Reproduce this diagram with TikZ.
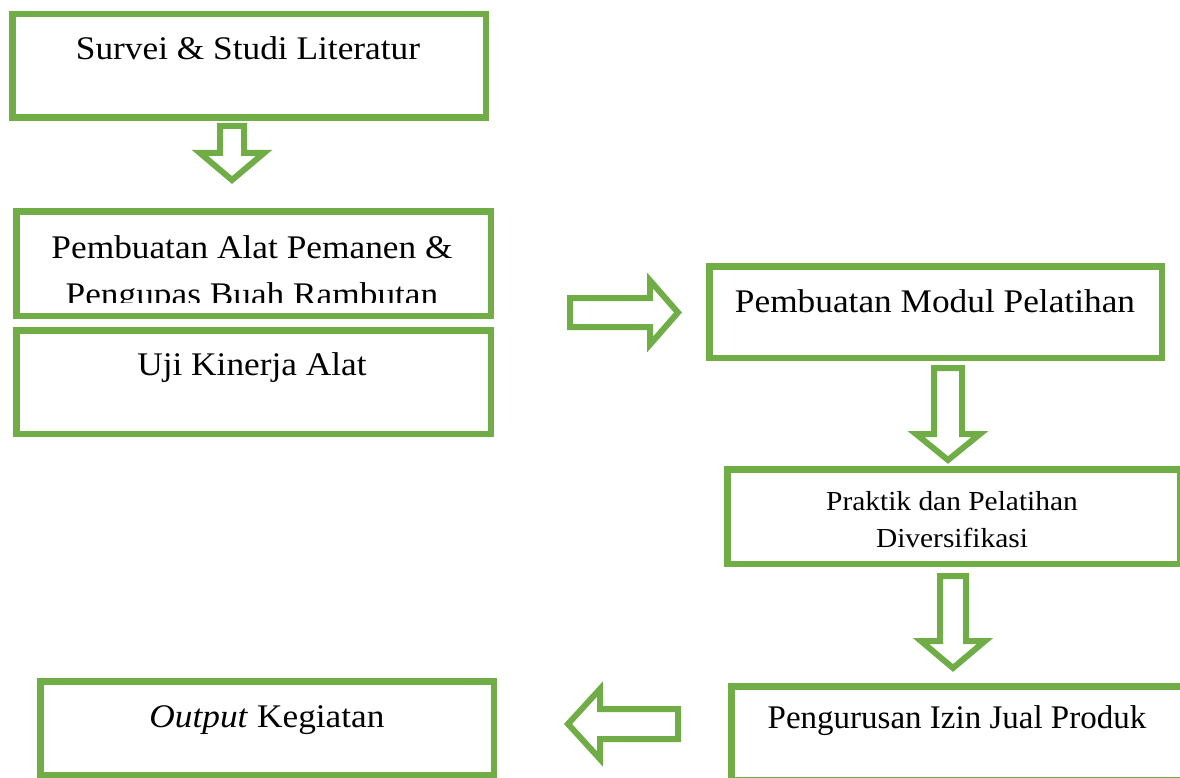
\documentclass[tikz,border=0pt]{standalone}
\usepackage{fontspec}
\setmainfont{Liberation Serif}[FakeStretch=1.07]
\newfontfamily\plainfont{Liberation Serif}
\definecolor{ogreen}{HTML}{70AD47}
\tikzset{
  box/.style={draw=ogreen, line width=6.5pt, rectangle, inner sep=0pt, fill=white},
  blockarrow/.style={draw=ogreen, line width=6pt, line join=miter, miter limit=10, fill=white},
  lbl/.style={anchor=base, inner sep=0pt, font=\fontsize{33}{38}\selectfont},
  lblplain/.style={anchor=base, inner sep=0pt, font=\plainfont\fontsize{33}{38}\selectfont},
  lblsmall/.style={anchor=base, inner sep=0pt, font=\fontsize{27.5}{32}\selectfont}
}
% down arrow: cx, top, headbase, tip, shafthalf, headhalf
\newcommand{\dnarrow}[6]{%
  \draw[blockarrow] (#1-#5,#2) -- (#1+#5,#2) -- (#1+#5,#3) -- (#1+#6,#3) -- (#1,#4)
    -- (#1-#6,#3) -- (#1-#5,#3) -- cycle;}
% horizontal arrow: cy, start, headbase, tip, shafthalf, headhalf
\newcommand{\hzarrow}[6]{%
  \draw[blockarrow] (#2,#1-#5) -- (#3,#1-#5) -- (#3,#1-#6) -- (#4,#1) -- (#3,#1+#6)
    -- (#3,#1+#5) -- (#2,#1+#5) -- cycle;}
\begin{document}
\begin{tikzpicture}[x=1pt,y=-1pt]
\useasboundingbox (0,0) rectangle (1180,778);
\clip (0,0) rectangle (1180,778);
\fill[white] (0,0) rectangle (1180,778);
% boxes
\node[box, minimum width=473.5pt, minimum height=103.5pt] (b1) at (249,66) {};
\node[box, minimum width=474.5pt, minimum height=104.5pt] (b2) at (253.5,263.5) {};
\node[box, minimum width=474.5pt, minimum height=103.5pt] (b3) at (253.5,382) {};
\node[box, minimum width=452.5pt, minimum height=91.5pt] (b4) at (935.5,312) {};
\node[box, minimum width=453pt, minimum height=94.5pt] (b5) at (953.75,516.5) {};
\node[box, minimum width=470pt, minimum height=94pt] (b6) at (966.25,733.25) {};
\node[box, minimum width=453.5pt, minimum height=93.5pt] (b7) at (267,728) {};
% texts
\node[lbl] (t1) at (248,60) {Survei \& Studi Literatur};
\node[lbl] (t2a) at (252,258) {Pembuatan Alat Pemanen \&};
\begin{scope}
\clip (20,270) rectangle (490,302);
\node[lbl] (t2b) at (252,305) {Pengupas Buah Rambutan};
\end{scope}
\node[lbl] (t3) at (252,375) {Uji Kinerja Alat};
\node[lbl] (t4) at (935,312) {Pembuatan Modul Pelatihan};
\node[lblsmall] (t5a) at (952,510) {Praktik dan Pelatihan};
\node[lblsmall] (t5b) at (952,547) {Diversifikasi};
\node[lblplain] (t6) at (957,728) {Pengurusan Izin Jual Produk};
\node[lbl] (t7) at (267,727) {\textit{Output} Kegiatan};
% arrows
\dnarrow{232}{126}{153}{180}{12}{32}
\hzarrow{312.5}{570}{650}{678}{14.5}{32}
\dnarrow{948}{368}{434}{460}{14}{32}
\dnarrow{953}{576}{641}{668}{13}{32}
\hzarrow{724}{678}{600}{568}{15}{35}
\end{tikzpicture}
\end{document}
